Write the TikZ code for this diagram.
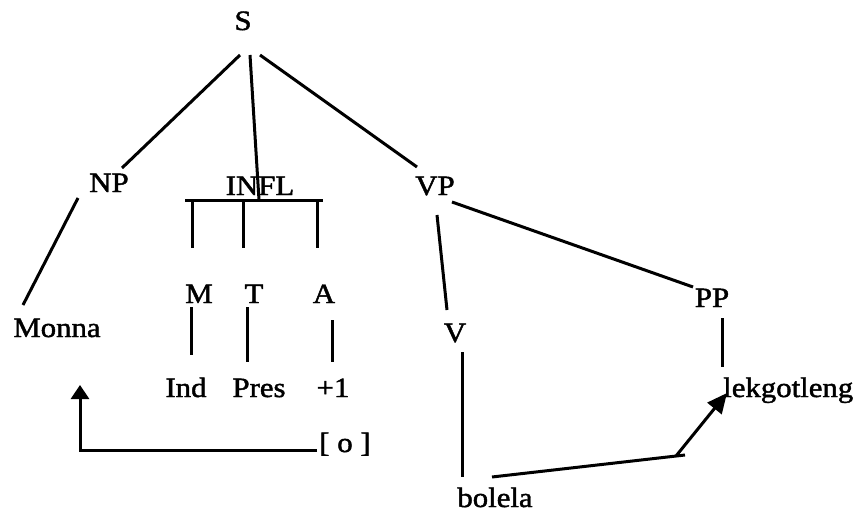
\documentclass[tikz,border=0pt]{standalone}
\usepackage{fontspec}
\setmainfont{Liberation Serif}[FakeStretch=1.1,FakeBold=1.6]
\usetikzlibrary{calc,arrows.meta}
\begin{document}
\begin{tikzpicture}[x=1pt,y=-1pt,
  lbl/.style={anchor=base,inner sep=0pt,font=\fontsize{28}{32}\selectfont},
  edge/.style={line width=3pt},
  tipa/.style={-{Triangle[width=18pt,length=14pt]}},
  tipb/.style={-{Triangle[width=18pt,length=20pt]}}]
\useasboundingbox (0,0) rectangle (861,513);
% nodes
\node[lbl] (S) at (243,30) {S};
\node[lbl] (NP) at (109,192) {NP};
\node[lbl] (INFL) at (260,195) {INFL};
\node[lbl] (VP) at (435,195) {VP};
\node[lbl] (M) at (199,303) {M};
\node[lbl] (T) at (254,303) {T};
\node[lbl] (A) at (324,303) {A};
\node[lbl] (Monna) at (57,337) {Monna};
\node[lbl] (V) at (455,342) {V};
\node[lbl] (PP) at (712,307) {PP};
\node[lbl] (Ind) at (186,397) {Ind};
\node[lbl] (Pres) at (259,397) {Pres};
\node[lbl] (plus) at (333,397) {+1};
\node[lbl] (o) at (345,452) {[ o ]};
\node[lbl] (bolela) at (495,507) {bolela};
\node[lbl,anchor=base west] (lek) at (723,397) {lekgotleng};
\coordinate (kink) at (685,455);
\coordinate (kinkstart) at (676,456);
% S branches
\draw[edge] ($(S.base)+(-3,25)$) -- ($(NP.base)+(13,-24)$);
\draw[edge] ($(S.base)+(7,25)$) -- ($(INFL.base)+(-1,5)$);
\draw[edge] ($(S.base)+(17,25)$) -- ($(VP.base)+(-18,-28)$);
% INFL bar
\draw[edge] ($(INFL.base)+(-75,5)$) -- ($(INFL.base)+(63,5)$);
\draw[edge] ($(INFL.base)+(-68,5)$) -- ($(INFL.base)+(-68,53)$);
\draw[edge] ($(INFL.base)+(-17,5)$) -- ($(INFL.base)+(-17,53)$);
\draw[edge] ($(INFL.base)+(57,5)$) -- ($(INFL.base)+(57,53)$);
% M T A
\draw[edge] ($(M.base)+(-8,4)$) -- ($(Ind.base)+(5,-42)$);
\draw[edge] ($(T.base)+(-7,4)$) -- ($(Pres.base)+(-12,-35)$);
\draw[edge] ($(A.base)+(8,17)$) -- ($(plus.base)+(-1,-35)$);
% NP
\draw[edge] ($(NP.base)+(-31,6)$) -- ($(Monna.base)+(-34,-32)$);
% movement arrow to Monna
\draw[edge,tipa] ($(o.base)+(-28,-2)$) -| ($(Monna.base)+(23,48)$);
% VP
\draw[edge] ($(VP.base)+(2,20)$) -- ($(V.base)+(-8,-32)$);
\draw[edge] ($(VP.base)+(17,7)$) -- ($(PP.base)+(-19,-20)$);
\draw[edge] ($(PP.base)+(10,11)$) -- ($(PP.base)+(10,60)$);
\draw[edge] ($(V.base)+(7,10)$) -- ($(bolela.base)+(-33,-30)$);
% bolela arrow
\draw[edge] ($(bolela.base)+(-3,-30)$) -- (kink);
\draw[edge,tipb] (kinkstart) -- ($(lek.base west)+(4,-4)$);
\end{tikzpicture}
\end{document}
